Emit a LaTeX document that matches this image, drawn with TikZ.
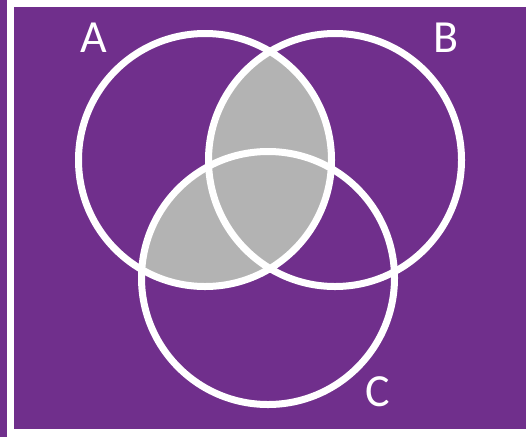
\documentclass[tikz,border=0pt]{standalone}
\usepackage{fontspec}
\setmainfont{Carlito}
\definecolor{bgpurple}{RGB}{112,47,140}
\definecolor{greyfill}{RGB}{179,179,179}
\tikzset{
  ring/.style={draw=white, line width=7pt},
  lab/.style={text=white, inner sep=0pt, font=\fontsize{46}{46}\selectfont},
  frame/.style={draw=white, line width=7pt}
}
\begin{document}
\begin{tikzpicture}[x=1pt,y=-1pt]
\useasboundingbox (0,0) rectangle (526,437);
\fill[bgpurple] (0,0) rectangle (526,437);
\draw[frame] (10.5,3.5) -- (540,3.5);
\draw[frame] (10.5,0) -- (10.5,437);
\fill[white] (7,429) rectangle (540,437);
\coordinate (cA) at (205,160);
\coordinate (cB) at (335,160);
\coordinate (cC) at (268,278);
\begin{scope}
  \clip (cA) circle[radius=126.5pt];
  \fill[greyfill] (cB) circle[radius=126.5pt];
  \fill[greyfill] (cC) circle[radius=126.5pt];
\end{scope}
\draw[ring] (cA) circle[radius=126.5pt];
\draw[ring] (cB) circle[radius=126.5pt];
\draw[ring] (cC) circle[radius=126.5pt];
\node[lab] (lA) at (93.5,38) {A};
\node[lab] (lB) at (446,38) {B};
\node[lab] (lC) at (378,392) {C};
\end{tikzpicture}
\end{document}
